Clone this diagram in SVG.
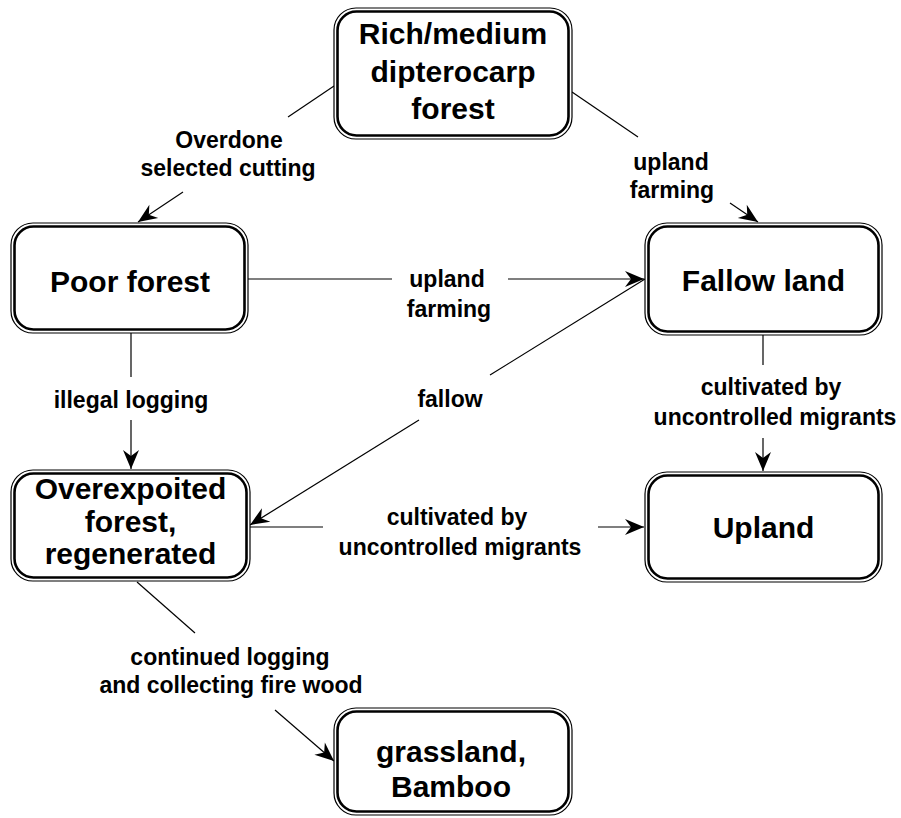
<svg xmlns="http://www.w3.org/2000/svg" width="901" height="818" viewBox="0 0 901 818">
  <style>
    .box-o { fill: #fff; stroke: #000; stroke-width: 1.2; }
    .box-i { fill: none; stroke: #000; stroke-width: 2.6; }
    .nt { font-family: "Liberation Sans", Arial, sans-serif; font-weight: bold; font-size: 30px; text-anchor: middle; fill: #000; }
    .el { font-family: "Liberation Sans", Arial, sans-serif; font-weight: bold; font-size: 23px; text-anchor: middle; fill: #000; }
    .ln { stroke: #000; stroke-width: 1.2; fill: none; }
  </style>
  <defs>
    <marker id="arr" viewBox="-20 -9 22 18" refX="0" refY="0" markerWidth="22" markerHeight="18" markerUnits="userSpaceOnUse" orient="auto">
      <path d="M0,0 L-19,-8 L-13,0 L-19,8 Z" fill="#000"/>
    </marker>
  </defs>
  <rect width="901" height="818" fill="#fff"/>

  <g id="connectors">
    <!-- Rich -> Poor -->
    <line class="ln" x1="334" y1="86" x2="288" y2="117"/>
    <line class="ln" x1="183" y1="192" x2="138" y2="222" marker-end="url(#arr)"/>
    <!-- Rich -> Fallow -->
    <line class="ln" x1="572" y1="92" x2="638" y2="137"/>
    <line class="ln" x1="730" y1="203" x2="758" y2="222" marker-end="url(#arr)"/>
    <!-- Poor -> Fallow -->
    <line class="ln" x1="248" y1="279" x2="392" y2="279"/>
    <line class="ln" x1="508" y1="279" x2="644" y2="279" marker-end="url(#arr)"/>
    <!-- Fallow -> Overexpoited -->
    <line class="ln" x1="645" y1="279" x2="490" y2="375"/>
    <line class="ln" x1="419" y1="420" x2="250" y2="525" marker-end="url(#arr)"/>
    <!-- Poor -> Overexpoited -->
    <line class="ln" x1="131" y1="333" x2="131" y2="377"/>
    <line class="ln" x1="131" y1="420" x2="131" y2="469" marker-end="url(#arr)"/>
    <!-- Overexpoited -> Upland -->
    <line class="ln" x1="250" y1="527" x2="323" y2="527"/>
    <line class="ln" x1="598" y1="527" x2="644" y2="527" marker-end="url(#arr)"/>
    <!-- Fallow -> Upland -->
    <line class="ln" x1="763" y1="335" x2="763" y2="365"/>
    <line class="ln" x1="763" y1="438" x2="763" y2="471" marker-end="url(#arr)"/>
    <!-- Overexpoited -> grassland -->
    <line class="ln" x1="137" y1="582" x2="195" y2="633"/>
    <line class="ln" x1="275" y1="710" x2="334" y2="761" marker-end="url(#arr)"/>

    <text class="el" x="229" y="148">Overdone</text>
    <text class="el" x="228" y="176">selected cutting</text>
    <text class="el" x="671" y="170">upland</text>
    <text class="el" x="672" y="198">farming</text>
    <text class="el" x="447" y="287">upland</text>
    <text class="el" x="449" y="317">farming</text>
    <text class="el" x="131" y="408">illegal logging</text>
    <text class="el" x="450" y="407">fallow</text>
    <text class="el" x="457" y="525">cultivated by</text>
    <text class="el" x="460" y="555">uncontrolled migrants</text>
    <text class="el" x="771" y="395">cultivated by</text>
    <text class="el" x="775" y="425">uncontrolled migrants</text>
    <text class="el" x="230" y="665">continued logging</text>
    <text class="el" x="231" y="693">and collecting fire wood</text>
  </g>

  <g id="rich">
    <rect class="box-o" x="334" y="8" width="238" height="131" rx="22"/>
    <rect class="box-i" x="337.5" y="11.5" width="231" height="124" rx="19"/>
    <text class="nt" x="453" y="44">Rich/medium</text>
    <text class="nt" x="453" y="82">dipterocarp</text>
    <text class="nt" x="453" y="119">forest</text>
  </g>
  <g id="poor">
    <rect class="box-o" x="11" y="223" width="237" height="110" rx="22"/>
    <rect class="box-i" x="14.5" y="226.5" width="230" height="103" rx="19"/>
    <text class="nt" x="130" y="292">Poor forest</text>
  </g>
  <g id="fallow">
    <rect class="box-o" x="645" y="223" width="237" height="112" rx="22"/>
    <rect class="box-i" x="648.5" y="226.5" width="230" height="105" rx="19"/>
    <text class="nt" x="763.5" y="291">Fallow land</text>
  </g>
  <g id="overexpoited">
    <rect class="box-o" x="11" y="470" width="239" height="111" rx="22"/>
    <rect class="box-i" x="14.5" y="473.5" width="232" height="104" rx="19"/>
    <text class="nt" x="130.5" y="499">Overexpoited</text>
    <text class="nt" x="130.5" y="532">forest,</text>
    <text class="nt" x="130.5" y="564">regenerated</text>
  </g>
  <g id="upland">
    <rect class="box-o" x="645" y="472" width="237" height="110" rx="22"/>
    <rect class="box-i" x="648.5" y="475.5" width="230" height="103" rx="19"/>
    <text class="nt" x="763.5" y="538">Upland</text>
  </g>
  <g id="grassland">
    <rect class="box-o" x="334" y="708" width="238" height="107" rx="22"/>
    <rect class="box-i" x="337.5" y="711.5" width="231" height="100" rx="19"/>
    <text class="nt" x="451" y="762">grassland,</text>
    <text class="nt" x="451" y="797">Bamboo</text>
  </g>
</svg>
